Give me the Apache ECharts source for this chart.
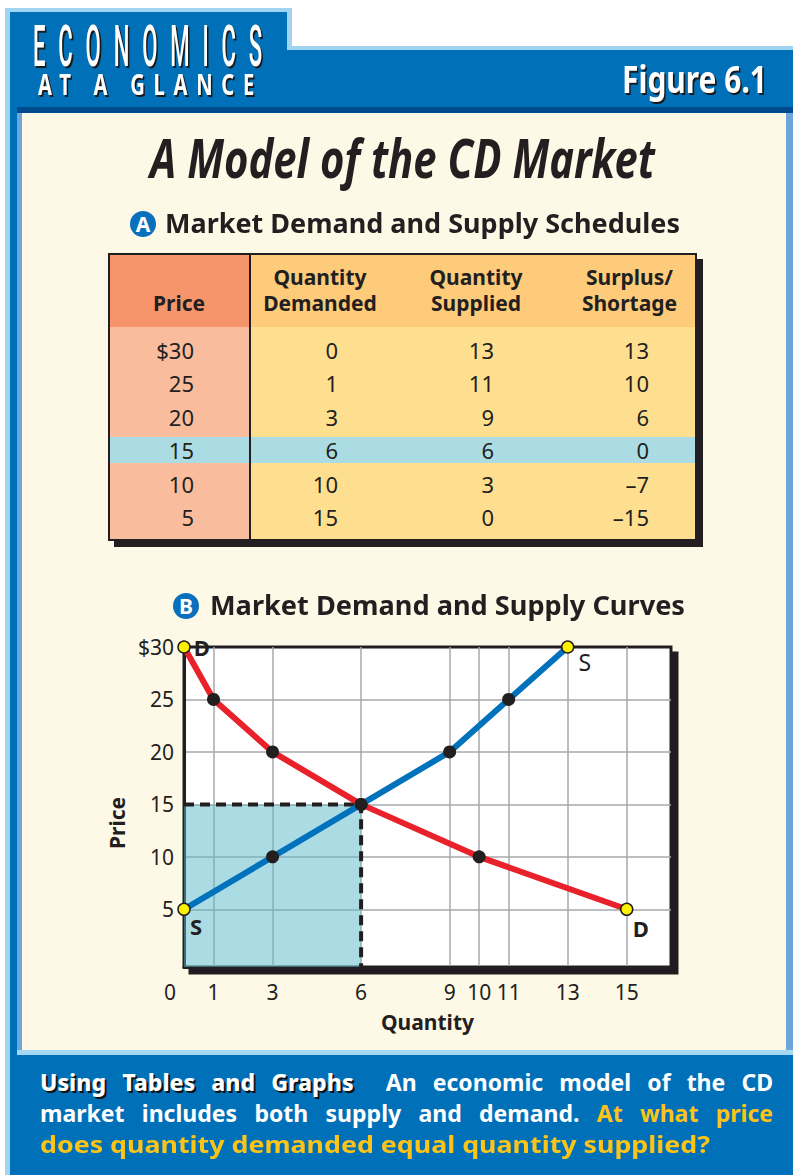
<!DOCTYPE html>
<html>
<head>
<meta charset="utf-8">
<title>A Model of the CD Market</title>
<script src="https://cdn.jsdelivr.net/npm/echarts@6.0.0/dist/echarts.min.js"></script>
<style>
  html, body { margin: 0; padding: 0; }
  body {
    width: 793px; height: 1175px; position: relative; overflow: hidden;
    background: #fff; color: #231f20;
    font-family: 'Noto Sans', 'Open Sans', sans-serif;
  }
  .box { position: absolute; }
  .txt { position: absolute; white-space: nowrap; line-height: 1; transform-origin: 0 50%; }
  .badge {
    position: absolute; width: 26px; height: 26px; border-radius: 50%;
    background: #0a6fbd; color: #fff; font-weight: 700; font-size: 21px;
    line-height: 26px; text-align: center;
  }
  .head { font-weight: 700; font-size: 26px; }
  #table { position: absolute; left: 108px; top: 253px; width: 589px; height: 288px; }
  #table .cell { position: absolute; white-space: nowrap; }
  .th { font-weight: 700; font-size: 21px; line-height: 26px; text-align: center; }
  .td { font-size: 22px; line-height: 34px; height: 34px; text-align: right; }
  .cap {
    position: absolute; left: 40px; width: 733px; height: 31px;
    font-size: 23px; font-weight: 700; line-height: 31px; color: #fff;
    white-space: nowrap; transform-origin: 0 50%;
  }
  .cap.just { text-align: justify; text-align-last: justify; white-space: normal; }
  .lead { color: #fff; text-shadow: 2px 2px 0 #111; font-weight: 800; }
  .ask { color: #fcc419; }
  #chart { position: absolute; left: 90px; top: 615px; width: 620px; height: 425px; }
</style>
</head>
<body>
  <!-- blue frame and bevels -->
  <div class="box" style="left:5px;top:8px;width:788px;height:1167px;background:#0070b9;"></div>
  <div class="box" style="left:292px;top:0;width:501px;height:46px;background:#fff;"></div>
  <div class="box" style="left:5px;top:8px;width:287px;height:4px;background:#9fd4f3;"></div>
  <div class="box" style="left:287px;top:8px;width:5px;height:42px;background:#9fd4f3;"></div>
  <div class="box" style="left:287px;top:46px;width:506px;height:4px;background:#9fd4f3;"></div>
  <div class="box" style="left:5px;top:8px;width:5px;height:1167px;background:#9fd4f3;"></div>
  <div class="box" style="left:17px;top:107px;width:776px;height:6px;background:#004b8e;"></div>
  <div class="box" style="left:17px;top:113px;width:776px;height:942px;background:#6fa6da;"></div>
  <div class="box" style="left:17px;top:1050px;width:776px;height:5px;background:#a6d8f4;"></div>
  <div class="box" style="left:22px;top:113px;width:764px;height:937px;background:#fef9e7;"></div>

  <!-- header -->
  <div id="econ" class="txt" style="left:33px;top:26px;height:42px;line-height:42px;font-family:Roboto,'Noto Sans',sans-serif;font-size:57px;font-weight:500;letter-spacing:33px;color:#fff;text-shadow:4px 2px 0 #1a1a1a;">ECONOMICS</div>
  <div id="glance" class="txt" style="left:38px;top:72px;height:24px;line-height:24px;font-size:28px;font-weight:700;letter-spacing:12px;color:#fff;text-shadow:2px 2px 0 #1a1a1a;">AT A GLANCE</div>
  <div id="fig" class="txt" style="left:622px;top:59px;font-size:38px;font-weight:700;color:#fff;text-shadow:2px 2px 0 #1a1a1a;">Figure 6.1</div>

  <!-- title -->
  <div id="title" class="txt" style="left:150px;top:131px;font-size:53px;font-weight:700;font-style:italic;">A Model of the CD Market</div>

  <!-- part A -->
  <div class="badge" style="left:130px;top:211px;">A</div>
  <div id="headA" class="txt head" style="left:165px;top:210px;">Market Demand and Supply Schedules</div>
  <div class="box" style="left:114px;top:259px;width:589px;height:288px;background:#231f20;"></div>
  <div id="table"></div>

  <!-- part B -->
  <div class="badge" style="left:173px;top:593px;z-index:2;">B</div>
  <div id="headB" class="txt head" style="left:210px;top:592px;z-index:2;">Market Demand and Supply Curves</div>
  <div id="chart"></div>

  <!-- caption -->
  <div class="cap just" style="top:1067px;"><span class="lead">Using Tables and Graphs</span>&nbsp; An economic model of the CD</div>
  <div class="cap just" style="top:1098px;">market includes both supply and demand. <span class="ask">At what price</span></div>
  <div id="cap3" class="cap ask" style="top:1129px;width:auto;">does quantity demanded equal quantity supplied?</div>

<script>
// schedule data
const prices = [30, 25, 20, 15, 10, 5];
const qtyDemanded = [0, 1, 3, 6, 10, 15];
const qtySupplied = [13, 11, 9, 6, 3, 0];
const surplusShortage = [13, 10, 6, 0, -7, -15];
const tableHeads = [['Price'], ['Quantity', 'Demanded'], ['Quantity', 'Supplied'], ['Surplus/', 'Shortage']];

// axis labels of the graph
const priceTicks = [5, 10, 15, 20, 25, 30];
const qtyTicks = [0, 1, 3, 6, 9, 10, 11, 13, 15];
const eqPrice = 15;
const eqQty = 6;

const ink = '#231f20';

// squeeze a text line to the width it has in the figure
function fit(id, w) {
  const el = document.getElementById(id);
  const r = el.getBoundingClientRect().width;
  el.style.transform = 'scaleX(' + (w / r) + ')';
}
fit('econ', 229 + 13);
fit('glance', 220 + 5);
fit('fig', 145);
fit('title', 505);
fit('headA', 515);
fit('headB', 475);
fit('cap3', 670);

// ---- table A ----
const table = document.getElementById('table');
const cols = [
  { left: 0, width: 142, head: '#f6946b', body: '#f9bc9d', right: 56 },
  { left: 142, width: 140, head: '#fdcb7a', body: '#fedf8f', right: 52 },
  { left: 282, width: 172, head: '#fdcb7a', body: '#fedf8f', right: 68 },
  { left: 454, width: 135, head: '#fdcb7a', body: '#fedf8f', right: 48 }
];
const headH = 74, rowTop = 80, rowH = 33.4;

function addDiv(cls, css, text) {
  const d = document.createElement('div');
  d.className = cls;
  Object.assign(d.style, css);
  if (text !== undefined) d.textContent = text;
  table.appendChild(d);
  return d;
}

cols.forEach(c => {
  addDiv('cell', { left: c.left + 'px', top: '0px', width: c.width + 'px', height: headH + 'px', background: c.head });
  addDiv('cell', { left: c.left + 'px', top: headH + 'px', width: c.width + 'px', height: (288 - headH) + 'px', background: c.body });
});
// equilibrium row band
const eqRow = prices.indexOf(eqPrice);
addDiv('cell', { left: '0px', top: (rowTop + eqRow * rowH + 4) + 'px', width: '589px', height: '26px', background: '#acdce3' });
// divider after price column
addDiv('cell', { left: '141px', top: '0px', width: '1.5px', height: '288px', background: ink });

tableHeads.forEach((lines, j) => {
  const c = cols[j];
  const top = lines.length === 1 ? 37 : 11;
  addDiv('cell th', { left: c.left + 'px', top: top + 'px', width: c.width + 'px' }).innerHTML = lines.join('<br>');
});

const fmtNum = v => (v < 0 ? '\u2013' + Math.abs(v) : String(v));
const columns = [
  prices.map((p, i) => (i === 0 ? '$' + p : String(p))),
  qtyDemanded.map(fmtNum),
  qtySupplied.map(fmtNum),
  surplusShortage.map(fmtNum)
];
columns.forEach((vals, j) => {
  const c = cols[j];
  vals.forEach((v, i) => {
    addDiv('cell td', {
      left: c.left + 'px', width: (c.width - c.right) + 'px',
      top: (rowTop + i * rowH) + 'px'
    }, v);
  });
});
addDiv('cell', { left: '0px', top: '0px', width: '589px', height: '288px', border: '2px solid ' + ink, boxSizing: 'border-box' });

// ---- graph B ----
const chart = echarts.init(document.getElementById('chart'), null, { renderer: 'svg' });

const yMin = -0.5;
const endDot = { color: '#fff200', borderColor: ink, borderWidth: 1.5 };
const midDot = { color: ink };
const labelFont = { fontFamily: 'Noto Sans', fontWeight: 'bold', fontSize: 22, color: ink };

function curvePoints(qtys, tag, endLabels) {
  return prices.map((p, i) => {
    const isEnd = i === 0 || i === prices.length - 1;
    const item = {
      value: [qtys[i], p],
      symbolSize: isEnd ? 12 : 13,
      itemStyle: isEnd ? endDot : midDot
    };
    if (isEnd) {
      item.label = Object.assign({ show: true, formatter: tag }, labelFont, endLabels[i === 0 ? 0 : 1]);
    }
    return item;
  });
}

const axisFont = { fontFamily: 'Noto Sans', fontSize: 21, color: ink };
const nameFont = { fontFamily: 'Noto Sans', fontSize: 21, fontWeight: 'bold', color: ink };

chart.setOption({
  animation: false,
  textStyle: { fontFamily: 'Noto Sans' },
  grid: {
    left: 94, top: 32, width: 487, height: 320,
    show: true, backgroundColor: '#fff',
    borderColor: ink, borderWidth: 3,
    shadowColor: ink, shadowOffsetX: 6, shadowOffsetY: 6, shadowBlur: 0
  },
  xAxis: {
    type: 'value', min: 0, max: 16.5,
    name: 'Quantity', nameLocation: 'middle', nameGap: 44, nameTextStyle: nameFont,
    axisLine: { show: true, onZero: false, lineStyle: { color: ink, width: 3 } },
    axisTick: { show: false, customValues: qtyTicks.filter(v => v > 0) },
    splitLine: { show: true, lineStyle: { color: '#a7a9ac', width: 1.5 } },
    axisLabel: Object.assign({
      customValues: qtyTicks, margin: 14,
      formatter: v => (v === 0 ? '{zero|0}' : String(v)),
      rich: { zero: Object.assign({ padding: [0, 28, 0, 0] }, axisFont) }
    }, axisFont)
  },
  yAxis: {
    type: 'value', min: yMin, max: 30,
    name: 'Price', nameLocation: 'middle', nameGap: 50,
    nameTextStyle: Object.assign({ padding: [0, 32, 0, 0] }, nameFont),
    axisLine: { show: true, onZero: false, lineStyle: { color: ink, width: 3 } },
    axisTick: { show: false, customValues: priceTicks.filter(v => v < 30) },
    splitLine: { show: true, lineStyle: { color: '#a7a9ac', width: 1.5 } },
    axisLabel: Object.assign({
      customValues: priceTicks, margin: 10,
      formatter: v => (v === 30 ? '$' + v : String(v))
    }, axisFont)
  },
  series: [
    {
      type: 'line', name: 'Equilibrium', silent: true, clip: false, z: 3,
      data: [[0, eqPrice], [eqQty, eqPrice], [eqQty, yMin]],
      symbol: 'none',
      lineStyle: { type: [10, 6], width: 4, color: ink },
      markArea: {
        silent: true,
        itemStyle: { color: 'rgba(89,185,199,0.5)' },
        data: [[{ coord: [0, yMin] }, { coord: [eqQty, eqPrice] }]]
      }
    },
    {
      type: 'line', name: 'Demand', clip: false, z: 4, symbol: 'circle', showAllSymbol: true,
      emphasis: { disabled: true },
      lineStyle: { color: '#e8212a', width: 6 },
      data: curvePoints(qtyDemanded, 'D', [
        { position: 'right', distance: 3 },
        { position: 'inside', offset: [14, 19] }
      ])
    },
    {
      type: 'line', name: 'Supply', clip: false, z: 5, symbol: 'circle', showAllSymbol: true,
      emphasis: { disabled: true },
      lineStyle: { color: '#0072bc', width: 6 },
      data: curvePoints(qtySupplied, 'S', [
        { position: 'inside', offset: [17, 15], fontWeight: 'normal', fontSize: 23 },
        { position: 'inside', offset: [12, 17] }
      ])
    }
  ]
});
</script>
</body>
</html>
